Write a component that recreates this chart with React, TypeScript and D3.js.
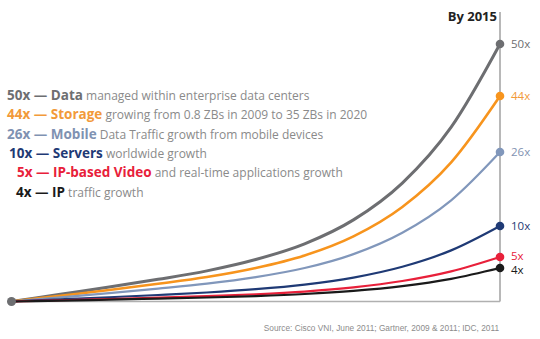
import React from "react";
import * as d3 from "d3";

const multipliers = [50, 44, 26, 10, 5, 4];
const names = ["Data", "Storage", "Mobile", "Servers", "IP-based Video", "IP"];
const descriptions = [
  "managed within enterprise data centers",
  "growing from 0.8 ZBs in 2009 to 35 ZBs in 2020",
  "Data Traffic growth from mobile devices",
  "worldwide growth",
  "and real-time applications growth",
  "traffic growth",
];
const endLabels = ["50x", "44x", "26x", "10x", "5x", "4x"];
// shared growth profile (share of total growth reached)
const years = [2010, 2010.5, 2011, 2011.5, 2012, 2012.5, 2013, 2013.5, 2014, 2014.5, 2015];
const growthShare = [0, 0.028, 0.056, 0.086, 0.119, 0.163, 0.224, 0.317, 0.46, 0.677, 1];

const lineColors = ["#6d6e71", "#f7941d", "#8197bb", "#1f3a75", "#e8203a", "#1a1a1a"];
const labelColors = ["#6d6e71", "#f29a3a", "#7f92b2", "#1f3a75", "#e8203a", "#1a1a1a"];
const strokeWidths = [3, 2.6, 2.2, 2.2, 2.2, 2.2];
const legendX = [7, 7, 7, 9, 17, 16];
const labelNudge = [0, 0, 0, 0, -1, 1.5];

export default function App() {
  const W = 540, H = 339;
  const x = d3.scaleLinear().domain([2010, 2015]).range([11.5, 500]);
  const baseY = 301.5;
  // end position scale (infographic, non-linear spacing)
  const endY = d3.scaleLinear().domain([1, 4, 5, 10, 26, 44, 50]).range([baseY, 268, 257, 226, 152, 96, 44]);
  const line = d3.line<[number, number]>().x(d => d[0]).y(d => d[1]).curve(d3.curveMonotoneX);

  const font = "'Open Sans', sans-serif";
  const legendY = d3.scaleLinear().domain([0, 5]).range([100, 196.5]);

  return (
    <svg width={W} height={H} style={{ position: "absolute", left: 0, top: 0, background: "#fff" }}>
      <line x1={x(2015)} x2={x(2015)} y1={12} y2={baseY} stroke="#a0a0a0" strokeWidth={1.5} />
      <line x1={x(2010)} x2={x(2015)} y1={baseY} y2={baseY} stroke="#b0b0b0" strokeWidth={1.5} />
      <text x={497} y={20.5} textAnchor="end" fontFamily={font} fontWeight={700} fontSize={13} fill="#222">By 2015</text>
      {multipliers.map((m, i) => {
        const ey = endY(m);
        const pts: [number, number][] = years.map((yr, j) => [x(yr), baseY + (ey - baseY) * growthShare[j]]);
        return (
          <path key={"l" + i} d={line(pts) || ""} fill="none" stroke={lineColors[i]} strokeWidth={strokeWidths[i]} />
        );
      })}
      {multipliers.map((m, i) => (
        <g key={"d" + i}>
          <circle cx={x(2015)} cy={endY(m)} r={4.3} fill={lineColors[i]} />
          <text x={511} y={endY(m) + 4 + labelNudge[i]} fontFamily={font} fontSize={11.5} fill={labelColors[i]}>{endLabels[i]}</text>
        </g>
      ))}
      <circle cx={x(2010)} cy={baseY} r={4.5} fill="#6d6e71" />
      {multipliers.map((m, i) => (
        <text key={"t" + i} x={legendX[i]} y={legendY(i)} fontFamily={font} fontSize={12}>
          <tspan fontWeight={700} fill={labelColors[i]} fontSize={13.5}>{`${m}x — ${names[i]}`}</tspan>
          <tspan fill="#8a8a8a">{" " + descriptions[i]}</tspan>
        </text>
      ))}
      <text x={499} y={331} textAnchor="end" fontFamily="'Liberation Sans', Arial, sans-serif" fontSize={8.3} fill="#8c8c8c">
        Source: Cisco VNI, June 2011; Gartner, 2009 &amp; 2011; IDC, 2011
      </text>
    </svg>
  );
}
